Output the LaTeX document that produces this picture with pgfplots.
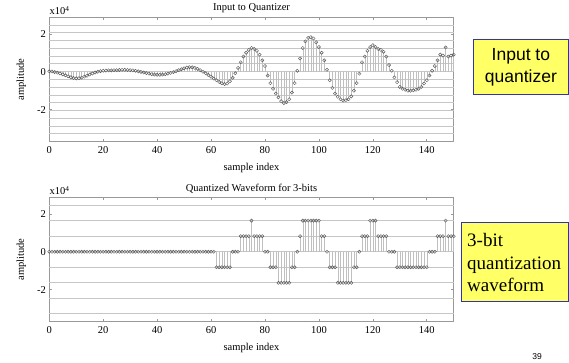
\documentclass[border=0pt]{standalone}
\usepackage{pgfplots}
\usepackage{pgfplotstable}
\pgfplotsset{compat=1.18}
\usepackage{fontspec}
\setmainfont{Liberation Serif}
\newfontfamily\arial{Liberation Sans}
\definecolor{boxyellow}{HTML}{FFFF66}
\definecolor{boxblue}{HTML}{3333AA}

\pgfplotstableread{
n in q
0 0.02 0
1 0.01 0
2 -0.02 0
3 -0.05 0
4 -0.09 0
5 -0.14 0
6 -0.19 0
7 -0.24 0
8 -0.29 0
9 -0.33 0
10 -0.35 0
11 -0.34 0
12 -0.31 0
13 -0.26 0
14 -0.21 0
15 -0.15 0
16 -0.09 0
17 -0.04 0
18 0.0 0
19 0.03 0
20 0.05 0
21 0.06 0
22 0.07 0
23 0.07 0
24 0.08 0
25 0.08 0
26 0.09 0
27 0.1 0
28 0.1 0
29 0.09 0
30 0.08 0
31 0.07 0
32 0.05 0
33 0.02 0
34 -0.01 0
35 -0.04 0
36 -0.07 0
37 -0.1 0
38 -0.13 0
39 -0.15 0
40 -0.16 0
41 -0.16 0
42 -0.15 0
43 -0.13 0
44 -0.1 0
45 -0.06 0
46 -0.02 0
47 0.03 0
48 0.08 0
49 0.13 0
50 0.18 0
51 0.22 0
52 0.24 0
53 0.23 0
54 0.2 0
55 0.15 0
56 0.08 0
57 0.0 0
58 -0.08 0
59 -0.17 0
60 -0.26 0
61 -0.36 0
62 -0.45 -0.8192
63 -0.54 -0.8192
64 -0.61 -0.8192
65 -0.65 -0.8192
66 -0.62 -0.8192
67 -0.5 -0.8192
68 -0.32 0
69 -0.08 0
70 0.2 0
71 0.5 0.8192
72 0.8 0.8192
73 1.0 0.8192
74 1.15 0.8192
75 1.25 1.6384
76 1.2 0.8192
77 1.1 0.8192
78 0.9 0.8192
79 0.6 0.8192
80 0.3 0
81 -0.2 0
82 -0.6 -0.8192
83 -0.9 -0.8192
84 -1.15 -0.8192
85 -1.35 -1.6384
86 -1.55 -1.6384
87 -1.65 -1.6384
88 -1.6 -1.6384
89 -1.45 -1.6384
90 -1.1 -0.8192
91 -0.6 -0.8192
92 0.05 0
93 0.7 0.8192
94 1.25 1.6384
95 1.6 1.6384
96 1.78 1.6384
97 1.82 1.6384
98 1.75 1.6384
99 1.55 1.6384
100 1.3 1.6384
101 1.0 0.8192
102 0.6 0.8192
103 0.1 0
104 -0.45 -0.8192
105 -0.85 -0.8192
106 -1.15 -0.8192
107 -1.32 -1.6384
108 -1.45 -1.6384
109 -1.52 -1.6384
110 -1.5 -1.6384
111 -1.45 -1.6384
112 -1.3 -1.6384
113 -1.0 -0.8192
114 -0.6 -0.8192
115 -0.1 0
116 0.5 0.8192
117 0.8 0.8192
118 1.1 0.8192
119 1.3 1.6384
120 1.4 1.6384
121 1.3 1.6384
122 1.2 0.8192
123 1.15 0.8192
124 1.05 0.8192
125 0.8 0.8192
126 0.35 0
127 0.05 0
128 -0.3 0
129 -0.55 -0.8192
130 -0.8 -0.8192
131 -0.9 -0.8192
132 -0.95 -0.8192
133 -1.0 -0.8192
134 -1.0 -0.8192
135 -0.98 -0.8192
136 -0.95 -0.8192
137 -0.9 -0.8192
138 -0.8 -0.8192
139 -0.62 -0.8192
140 -0.45 -0.8192
141 -0.2 0
142 0.05 0
143 0.3 0
144 0.6 0.8192
145 0.9 0.8192
146 0.85 0.8192
147 1.28 1.6384
148 0.8 0.8192
149 0.85 0.8192
150 0.9 0.8192
}\datatable

\pgfplotsset{
  stemaxis/.style={
    scale only axis, width=404.4pt, height=124.4pt, anchor=south west,
    xmin=0, xmax=150, ymin=-3.6864, ymax=2.8672,
    xtick={0,20,40,60,80,100,120,140},
    xticklabels={0,20,40,60,80,100,120,140},
    ytick={-2,0,2}, yticklabels={-2,0,2},
    tick align=inside, major tick length=3pt,
    axis line style={gray!80, line width=0.6pt},
    tick style={gray!80, line width=0.5pt},
    tick label style={font=\fontsize{10.5}{12}\selectfont, text=black},
    xticklabel style={yshift=-1pt},
    label style={font=\fontsize{10.5}{12}\selectfont},
    xlabel={sample index},
    ylabel={amplitude},
    xlabel style={yshift=-3pt},
    ylabel style={yshift=4pt},
    title style={font=\fontsize{10.5}{12}\selectfont, yshift=-5pt},
    extra y tick labels={},
    extra y tick style={grid=major, major grid style={gray!45, line width=1pt}, major tick length=0pt},
    clip=false,
  },
  stem/.style={ycomb, gray!50, line width=0.45pt,
    mark=o, mark size=1.6pt,
    mark options={draw=black!65, line width=0.45pt, fill=white}},
}

\begin{document}
\begin{tikzpicture}
\path[use as bounding box] (0,0) rectangle (569pt,362pt);
\begin{axis}[stemaxis, at={(49.3pt,220.3pt)},
  title={Input to Quantizer},
  extra y ticks={-3.2768,-2.8672,-2.4576,-2.048,-1.6384,-1.2288,-0.8192,-0.4096,0,0.4096,0.8192,1.2288,1.6384,2.048,2.4576}]
\addplot[stem] table[x=n, y=in] {\datatable};
\node[anchor=south west, inner sep=0pt, font=\fontsize{10.5}{12}\selectfont] at (rel axis cs:0,1) [yshift=2pt] {x10\textsuperscript{4}};
\end{axis}
\begin{axis}[stemaxis, at={(49.3pt,40.3pt)},
  title={Quantized Waveform for 3-bits},
  extra y ticks={-3.2768,-2.4576,-1.6384,-0.8192,0,0.8192,1.6384,2.4576}]
\addplot[stem] table[x=n, y=q] {\datatable};
\node[anchor=south west, inner sep=0pt, font=\fontsize{10.5}{12}\selectfont] at (rel axis cs:0,1) [yshift=2pt] {x10\textsuperscript{4}};
\end{axis}
\node[draw=boxblue, line width=0.8pt, fill=boxyellow, minimum width=95pt, minimum height=55pt, inner sep=0pt, anchor=south west, align=center, font=\arial\fontsize{17.5}{22}\selectfont] at (473pt,267pt) {Input to\\quantizer};
\node[draw=boxblue, line width=0.8pt, fill=boxyellow, minimum width=107pt, minimum height=79pt, inner sep=0pt, anchor=south west] at (461pt,60pt) {};
\node[anchor=west, align=left, inner sep=0pt, font=\fontsize{19}{22.5}\selectfont] at (467pt,99.5pt) {3-bit\\quantization\\waveform};
\node[font=\arial\fontsize{8.5}{10}\selectfont] at (537pt,5pt) {39};
\end{tikzpicture}
\end{document}
